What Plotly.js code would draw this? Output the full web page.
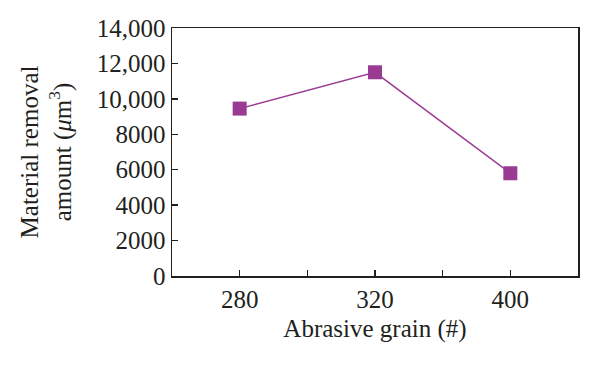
<!DOCTYPE html>
<html>
<head>
<meta charset="utf-8">
<script src="https://cdn.plot.ly/plotly-3.0.1.min.js"></script>
<style>html,body{margin:0;padding:0;background:#fff;}#chart{width:600px;height:369px;}</style>
</head>
<body>
<div id="chart"></div>
<script>
const grains = ['280', '320', '400'];
const removal = [9450, 11500, 5800];
const yTicks = [0, 2000, 4000, 6000, 8000, 10000, 12000, 14000];
const yTickText = ['0', '2000', '4000', '6000', '8000', '10,000', '12,000', '14,000'];

const purple = '#9a3b93';
const ink = '#231f20';
const font = {family: 'Liberation Serif, Times New Roman, serif', size: 25, color: ink};

const traces = [
  {
    x: grains, y: removal, type: 'scatter', mode: 'lines+markers',
    line: {color: purple, width: 1.5},
    marker: {symbol: 'square', size: 14, color: purple},
    xaxis: 'x', yaxis: 'y', hoverinfo: 'none', showlegend: false
  },
  {
    x: grains, y: removal, type: 'scatter', mode: 'none',
    xaxis: 'x2', yaxis: 'y', hoverinfo: 'none', showlegend: false
  }
];

const layout = {
  width: 600, height: 369,
  margin: {l: 172, r: 22, t: 28, b: 93},
  paper_bgcolor: '#fff', plot_bgcolor: '#fff',
  font: font,
  showlegend: false,
  xaxis: {
    type: 'category', categoryarray: grains, range: [-0.5, 2.5],
    showline: true, mirror: true, linecolor: ink, linewidth: 1.5,
    ticks: 'inside', ticklen: 6, tickwidth: 1.5, tickcolor: ink,
    showgrid: false, zeroline: false,
    tickfont: font,
    title: {text: 'Abrasive grain (#)', font: font, standoff: 8}
  },
  xaxis2: {
    type: 'category', categoryarray: grains, range: [-0.5, 2.5],
    overlaying: 'x', matches: 'x', tickson: 'boundaries',
    ticks: 'inside', ticklen: 6, tickwidth: 1.5, tickcolor: ink,
    showticklabels: false, showgrid: false, zeroline: false, showline: false
  },
  yaxis: {
    range: [0, 14000], tickvals: yTicks, ticktext: yTickText,
    showline: true, mirror: true, linecolor: ink, linewidth: 1.5,
    ticks: 'inside', ticklen: 6, tickwidth: 1.5, tickcolor: ink,
    showgrid: false, zeroline: false,
    tickfont: font,
    title: {text: 'Material removal<br>amount (<i>μ</i>m<sup>3</sup>)', font: font, standoff: 18}
  }
};

Plotly.newPlot('chart', traces, layout, {staticPlot: true});
</script>
</body>
</html>
